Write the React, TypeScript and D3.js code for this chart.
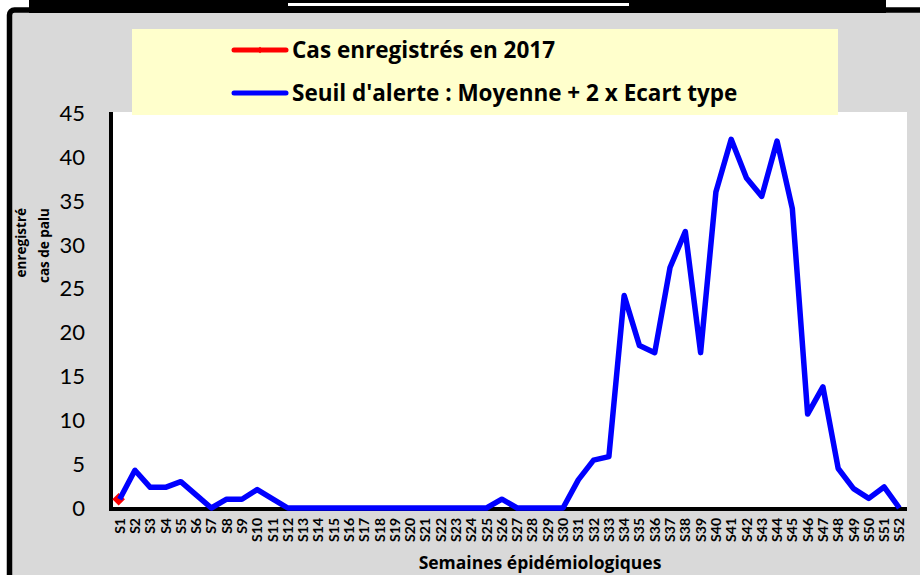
import React, { useEffect, useRef } from 'react';
import * as d3 from 'd3';

const weeks = d3.range(1, 53).map(i => `S${i}`);

// cas enregistrés en 2017 (seule la S1 est renseignée)
const casValues: (number | null)[] = [1];

// seuil d'alerte : moyenne + 2 x écart type
const seuilValues = [
  1.0, 4.3, 2.35, 2.35, 3.0, 1.5, 0, 1.0, 1.0, 2.1, 1.05, 0,
  0, 0, 0, 0, 0, 0, 0, 0, 0, 0, 0, 0, 0,
  1.0,
  0, 0, 0, 0,
  3.2, 5.45, 5.85, 24.2, 18.5, 17.7, 27.4, 31.5, 17.7, 36.0, 42.0, 37.6,
  35.5, 41.8, 34.1, 10.7, 13.8, 4.5, 2.2, 1.1, 2.4, 0
];

const yTicks = [0, 5, 10, 15, 20, 25, 30, 35, 40, 45];

const legendItems = [
  { label: 'Cas enregistrés en 2017', color: '#FF0000', marker: true },
  { label: "Seuil d'alerte : Moyenne + 2 x Ecart type", color: '#0000FF', marker: false }
];

const yTitleLines = ['cas de palu', 'enregistré'];

const FONT = 'Lato, "Open Sans", sans-serif';
const BOLD_FONT = '"Open Sans", Lato, sans-serif';

const App: React.FC = () => {
  const gRef = useRef<SVGGElement>(null);

  useEffect(() => {
    if (!gRef.current) return;
    const W = 920, H = 575;
    const svg = d3.select(gRef.current);
    svg.selectAll('*').remove();

    const plot = { left: 112, right: 907, top: 112, bottom: 508 };

    // cadre
    svg.append('rect').attr('x', 0).attr('y', 0).attr('width', W).attr('height', H).attr('fill', '#fff');
    svg.append('rect').attr('x', 9.5).attr('y', 10).attr('width', 940).attr('height', 620)
      .attr('rx', 5).attr('fill', '#D9D9D9').attr('stroke', '#000').attr('stroke-width', 5.5);
    svg.append('rect').attr('x', 29).attr('y', 0).attr('width', 857).attr('height', 13).attr('fill', '#000');
    svg.append('rect').attr('x', 288).attr('y', 3).attr('width', 341).attr('height', 3).attr('fill', '#fff');

    svg.append('rect').attr('x', plot.left).attr('y', plot.top)
      .attr('width', plot.right - plot.left).attr('height', plot.bottom - plot.top).attr('fill', '#fff');

    const x = d3.scaleBand<string>().domain(weeks).range([plot.left, plot.right]);
    const cx = (i: number) => (x(weeks[i]) as number) + x.bandwidth() / 2;
    const y = d3.scaleLinear().domain([0, 45]).range([plot.bottom, 113]);

    // axes
    svg.append('line').attr('x1', plot.left - 1).attr('x2', plot.left - 1)
      .attr('y1', plot.top).attr('y2', plot.bottom + 3).attr('stroke', '#000').attr('stroke-width', 4);
    svg.append('line').attr('x1', plot.left - 3).attr('x2', plot.right)
      .attr('y1', plot.bottom + 1).attr('y2', plot.bottom + 1).attr('stroke', '#000').attr('stroke-width', 4);

    svg.append('g').selectAll('text').data(yTicks).enter().append('text')
      .attr('x', 85).attr('y', d => y(d)).attr('dy', '0.36em').attr('text-anchor', 'end')
      .attr('font-family', FONT).attr('font-size', 22).attr('fill', '#000')
      .text(d => d);

    svg.append('g').selectAll('text').data(weeks).enter().append('text')
      .attr('transform', (d, i) => `translate(${cx(i)},518) rotate(-90)`)
      .attr('dy', '0.36em').attr('text-anchor', 'end')
      .attr('font-family', FONT).attr('font-weight', 'bold').attr('font-size', 14).attr('fill', '#000')
      .text(d => d);

    svg.append('text').attr('x', 540).attr('y', 569).attr('text-anchor', 'middle')
      .attr('font-family', BOLD_FONT).attr('font-weight', 'bold').attr('font-size', 17.5)
      .text('Semaines épidémiologiques');

    // titre de l'axe Y, deux lignes verticales lues de bas en haut
    svg.append('g').selectAll('text').data(yTitleLines).enter().append('text')
      .attr('transform', (d, i) => `translate(${44 - i * 23},208) rotate(-90)`)
      .attr('dy', '0.35em').attr('text-anchor', 'end')
      .attr('font-family', BOLD_FONT).attr('font-weight', 'bold').attr('font-size', 13.5).attr('fill', '#000')
      .text(d => d);

    // séries
    const line = d3.line<number | null>()
      .defined(d => d !== null && d !== undefined)
      .x((d, i) => cx(i))
      .y(d => y(d as number));

    svg.append('path').datum(casValues).attr('d', line).attr('fill', 'none')
      .attr('stroke', '#FF0000').attr('stroke-width', 5);
    svg.append('g').selectAll('path').data(casValues).enter()
      .filter(d => d !== null)
      .append('path')
      .attr('transform', (d, i) => `translate(${cx(i) - 1},${y(d as number)}) rotate(45)`)
      .attr('d', d3.symbol().type(d3.symbolSquare).size(55)())
      .attr('fill', '#FF0000').attr('stroke', '#FF0000').attr('stroke-width', 1.5);

    svg.append('path').datum(seuilValues).attr('d', line).attr('fill', 'none')
      .attr('stroke', '#0000FF').attr('stroke-width', 5.5).attr('stroke-linejoin', 'round');

    // légende
    const lg = svg.append('g');
    lg.append('rect').attr('x', 132).attr('y', 29).attr('width', 706).attr('height', 86).attr('fill', '#FFFFCC');
    legendItems.forEach((item, i) => {
      const ly = 50 + i * 43;
      lg.append('line').attr('x1', 234).attr('x2', 286).attr('y1', ly).attr('y2', ly)
        .attr('stroke', item.color).attr('stroke-width', 5).attr('stroke-linecap', 'round');
      if (item.marker) {
        lg.append('path').attr('transform', `translate(260,${ly}) rotate(45)`)
          .attr('d', d3.symbol().type(d3.symbolSquare).size(20)())
          .attr('fill', item.color);
      }
      lg.append('text').attr('x', 292).attr('y', ly + 8)
        .attr('font-family', BOLD_FONT).attr('font-weight', 'bold').attr('font-size', 22.5).attr('fill', '#000')
        .text(item.label);
    });
  }, []);

  return (
    <svg width={920} height={575} style={{ position: 'absolute', left: 0, top: 0, display: 'block' }}>
      <g ref={gRef} />
    </svg>
  );
};

export default App;
